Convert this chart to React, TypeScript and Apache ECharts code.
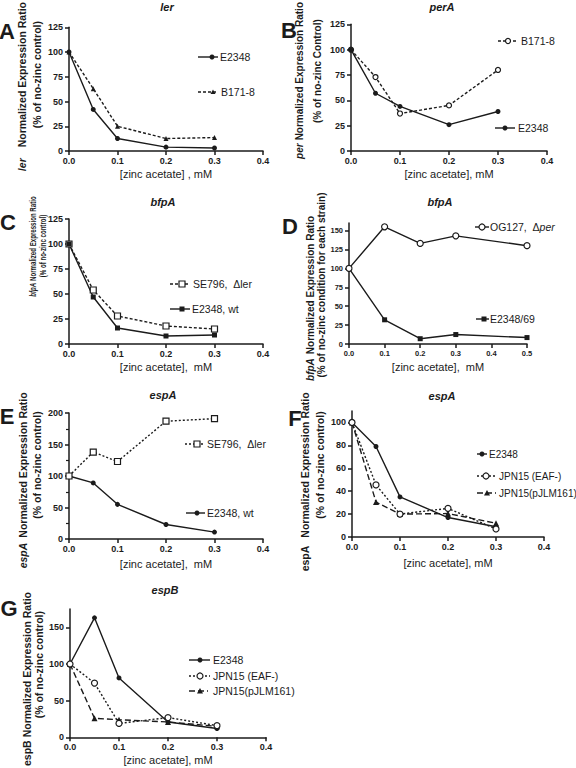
import React, { useEffect, useRef } from "react";
import * as echarts from "echarts";

// ---------- data ----------
const dose5 = [0, 0.05, 0.1, 0.2, 0.3];
const doseD = [0, 0.1, 0.2, 0.3, 0.5];

const lerE2348 = [100, 42, 12.6, 3.9, 3];
const lerB1718 = [100, 63, 25, 12.6, 13.6];

const perB1718 = [100, 73, 37, 45, 80];
const perE2348 = [100, 57, 44, 26, 39];

const bfpCSE796 = [100, 54, 28, 18, 15];
const bfpCE2348 = [100, 47, 16, 8, 9];

const bfpDOG127 = [100, 155, 133, 143, 130];
const bfpDE234869 = [100, 32, 7, 12.5, 8.5];

const espASE796 = [100, 138, 123, 187, 191];
const espAE2348wt = [100, 89, 55, 23, 11];

const espAE2348 = [100, 79, 35, 17, 9];
const espAJPN15 = [100, 45.5, 20, 25, 7];
const espAJPN15p = [100, 30.5, 20, 20.5, 12];

const espBE2348 = [100, 163, 81, 21, 12];
const espBJPN15 = [100, 74, 19, 27, 16];
const espBJPN15p = [100, 26, 24, 21, 15];

const ticks125 = [0, 25, 50, 75, 100, 125];
const ticksD = [0, 25, 50, 75, 100, 125, 150];
const ticksE = [0, 50, 100, 150, 200];
const ticksF = [0, 20, 40, 60, 80, 100];
const ticksG = [0, 50, 100, 150];

// ---------- styles ----------
const FONT = "'Liberation Sans', Arial, Helvetica, sans-serif";
const INK = "#1b1b1b";

const ST: Record<string, any> = {
  solidDot: { dash: "solid", sym: "circle", size: 5, filled: true },
  solidOpenCircle: { dash: "solid", sym: "circle", size: 6, filled: false },
  dashTri: { dash: [3, 2], sym: "triangle", size: 5, filled: true },
  dashOpenCircle: { dash: [3, 2], sym: "circle", size: 5, filled: false },
  dashOpenSquare: { dash: [3, 2], sym: "rect", size: 6, filled: false },
  dotOpenSquare: { dash: [2, 2], sym: "rect", size: 6, filled: false },
  solidSquare: { dash: "solid", sym: "rect", size: 5, filled: true },
  dotOpenCircle: { dash: [2, 2], sym: "circle", size: 6, filled: false },
  longDashTri: { dash: [6, 3], sym: "triangle", size: 6, filled: true },
};

const panels: any[] = [
  { grid: [69, 22, 194, 129], xMax: 0.4, yMax: 125, yTicks: ticks125, title: "ler", tx: 167, ty: 7, letter: "A", lx: 7, ly: 31, xName: "[zinc acetate] , mM", xGap: 17.5, tickFs: 9 },
  { grid: [351, 22, 196, 129], xMax: 0.4, yMax: 125, yTicks: ticks125, title: "perA", tx: 442, ty: 7, letter: "B", lx: 289, ly: 30, xName: "[zinc acetate], mM", xGap: 17.5, tickFs: 9 },
  { grid: [69, 219, 194, 125], xMax: 0.4, yMax: 125, yTicks: ticks125, title: "bfpA", tx: 163, ty: 202, letter: "C", lx: 8, ly: 222, xName: "[zinc acetate],  mM", xGap: 17.5, tickFs: 9 },
  { grid: [349, 223, 178, 121], xMax: 0.5, yMax: 160, yTicks: ticksD, title: "bfpA", tx: 440, ty: 202, letter: "D", lx: 290, ly: 226, xName: "[zinc acetate],  mM", xGap: 17.5, tickFs: 7.5 },
  { grid: [69, 413, 194, 126], xMax: 0.4, yMax: 200, yTicks: ticksE, minor: true, title: "espA", tx: 163, ty: 395, letter: "E", lx: 7, ly: 416, xName: "[zinc acetate],  mM", xGap: 19.5, tickFs: 9 },
  { grid: [352, 411, 192, 126], xMax: 0.4, yMax: 110, yTicks: ticksF, title: "espA", tx: 442, ty: 396, letter: "F", lx: 295, ly: 418, xName: "[zinc acetate], mM", xGap: 20.5, tickFs: 9 },
  { grid: [70, 609, 196, 129], xMax: 0.4, yMax: 175, yTicks: ticksG, title: "espB", tx: 165, ty: 590, letter: "G", lx: 9, ly: 608, xName: "[zinc acetate], mM", xGap: 17.5, tickFs: 9 },
];

// y-axis name layout per panel: c = screen centre of main text & 2nd line, gap = space between gene and main text
// condensed: drawn as compressed rotated text (panel C in the source figure is horizontally squeezed)
const yLabels: any[] = [
  { gene: "ler", it: true, fs: 10.5, lh: 15, nameGap: 19.5, c: 72, gap: 11, l2: "(% of no-zinc control)" },
  { gene: "per", it: true, fs: 10, lh: 18, nameGap: 20, c: 70, gap: 3, l2: "(% of no-zinc Control)" },
  { gene: "bfpA", it: true, fs: 9, condensed: { x1: 33, c1: 246.5, x2: 43.5, c2: 246, sc: 0.68 }, l2: "(% of no-zinc control)" },
  { gene: "bfpA", it: true, fs: 10, lh: 11, nameGap: 20.5, c: 285, gap: 4, l2: "(% of no-zinc condition for each strain)" },
  { gene: "espA", it: true, fs: 10.5, lh: 14, nameGap: 21, c: 465, gap: 5, l2: "(% of no-zinc control)" },
  { gene: "espA", it: false, fs: 10.5, lh: 15, nameGap: 19.5, c: 465, gap: 8, l2: "(% of no-zinc control)" },
  { gene: "espB", it: false, fs: 10.5, lh: 12, nameGap: 21, c: 665, gap: 3, l2: "(% of no-zinc control)" },
];

// legend layout
const legends: any[] = [
  { t: "E2348", st: "solidDot", x1: 198, x2: 218, sx: 212, y: 57, tx: 220 },
  { t: "B171-8", st: "dashTri", x1: 198, x2: 218, sx: 213, y: 92, tx: 221 },
  { t: "B171-8", st: "dashOpenCircle", x1: 498, x2: 518, sx: 508, y: 41, tx: 521 },
  { t: "E2348", st: "solidDot", x1: 495, x2: 515, sx: 505, y: 128, tx: 518 },
  { t: "SE796,  \u0394ler", st: "dashOpenSquare", x1: 170, x2: 188, sx: 182, y: 284, tx: 193 },
  { t: "E2348, wt", st: "solidSquare", x1: 170, x2: 190, sx: 182, y: 309, tx: 192 },
  { t: "OG127,  \u0394{i|per}", st: "solidOpenCircle", x1: 475, x2: 489, sx: 482, y: 227, tx: 490 },
  { t: "E2348/69", st: "solidSquare", x1: 476, x2: 489, sx: 484, y: 319, tx: 490 },
  { t: "SE796,  \u0394ler", st: "dotOpenSquare", x1: 185, x2: 204, sx: 197, y: 444, tx: 207 },
  { t: "E2348, wt", st: "solidDot", x1: 186, x2: 205, sx: 197, y: 513, tx: 207 },
  { t: "E2348", st: "solidDot", x1: 477, x2: 487, sx: 482, y: 454, tx: 489, fs: 10 },
  { t: "JPN15 (EAF-)", st: "dotOpenCircle", x1: 477, x2: 496, sx: 486, y: 476, tx: 499, fs: 10 },
  { t: "JPN15(pJLM161)", st: "longDashTri", x1: 477, x2: 496, sx: 487, y: 493, tx: 499, fs: 10 },
  { t: "E2348", st: "solidDot", x1: 189, x2: 210, sx: 200, y: 660, tx: 213 },
  { t: "JPN15 (EAF-)", st: "dotOpenCircle", x1: 189, x2: 210, sx: 200, y: 676, tx: 213 },
  { t: "JPN15(pJLM161)", st: "longDashTri", x1: 189, x2: 208, sx: 200, y: 691, tx: 213 },
];

let measureCtx: CanvasRenderingContext2D | null = null;
function textWidth(txt: string, font: string) {
  if (!measureCtx) measureCtx = document.createElement("canvas").getContext("2d");
  if (!measureCtx) return txt.length * 6;
  measureCtx.font = font;
  return measureCtx.measureText(txt).width;
}

function mkSeries(idx: number, xs: number[], ys: number[], stKey: string, name: string) {
  const st = ST[stKey];
  return {
    type: "line",
    name,
    xAxisIndex: idx,
    yAxisIndex: idx,
    data: xs.map((x, i) => [x, ys[i]]),
    symbol: st.sym,
    symbolSize: st.size,
    showSymbol: true,
    silent: true,
    lineStyle: { color: INK, width: 1.4, type: st.dash },
    itemStyle: { color: st.filled ? INK : "#fff", borderColor: INK, borderWidth: st.filled ? 0 : 1.2, opacity: 1 },
    emphasis: { disabled: true },
  };
}

function legendGraphics() {
  const out: any[] = [];
  legends.forEach((l) => {
    const st = ST[l.st];
    const fs = l.fs || 10.5;
    out.push({
      type: "line",
      shape: { x1: l.x1, y1: l.y, x2: l.x2, y2: l.y },
      style: { stroke: INK, lineWidth: 1.4, lineDash: st.dash === "solid" ? null : st.dash },
      silent: true,
    });
    const fill = st.filled ? INK : "#fff";
    const lw = st.filled ? 0 : 1.2;
    const h = st.size / 2;
    if (st.sym === "circle") {
      out.push({ type: "circle", shape: { cx: l.sx, cy: l.y, r: h }, style: { fill, stroke: INK, lineWidth: lw }, z: 110 });
    } else if (st.sym === "rect") {
      out.push({ type: "rect", shape: { x: l.sx - h, y: l.y - h, width: st.size, height: st.size }, style: { fill, stroke: INK, lineWidth: lw }, z: 110 });
    } else {
      out.push({
        type: "polygon",
        shape: { points: [[l.sx, l.y - h], [l.sx - h, l.y + h * 0.8], [l.sx + h, l.y + h * 0.8]] },
        style: { fill, stroke: INK, lineWidth: lw },
        z: 110,
      });
    }
    out.push({
      type: "text",
      x: l.tx,
      y: l.y,
      style: {
        text: l.t,
        fill: INK,
        fontFamily: FONT,
        fontSize: fs,
        verticalAlign: "middle",
        align: "left",
        rich: { i: { fontStyle: "italic", fontFamily: FONT, fontSize: fs, fill: INK } },
      },
    });
  });
  return out;
}

function labelGraphics() {
  const out: any[] = [];
  panels.forEach((p, i) => {
    out.push({
      type: "text",
      x: p.tx,
      y: p.ty,
      style: { text: p.title, fill: INK, fontFamily: FONT, fontSize: 11, fontWeight: "bold", fontStyle: "italic", align: "center", verticalAlign: "middle" },
    });
    out.push({
      type: "text",
      x: p.lx,
      y: p.ly,
      style: { text: p.letter, fill: INK, fontFamily: FONT, fontSize: 22, fontWeight: "bold", align: "center", verticalAlign: "middle" },
    });
    const yl = yLabels[i];
    if (yl.condensed) {
      const cd = yl.condensed;
      const base = { fill: INK, fontFamily: FONT, fontSize: yl.fs, fontWeight: "bold", align: "center", verticalAlign: "middle" };
      out.push({
        type: "text",
        x: cd.x1,
        y: cd.c1,
        rotation: Math.PI / 2,
        scaleX: cd.sc,
        style: { ...base, text: `{g|${yl.gene}} Normalized Expression Ratio`, rich: { g: { fontStyle: "italic", fontWeight: "bold", fontFamily: FONT, fontSize: yl.fs, fill: INK } } },
      });
      out.push({ type: "text", x: cd.x2, y: cd.c2, rotation: Math.PI / 2, scaleX: cd.sc, style: { ...base, text: yl.l2 } });
    }
  });
  return out;
}

function yName(i: number) {
  const yl = yLabels[i];
  if (yl.condensed) return { name: "" };
  const p = panels[i];
  const gc = p.grid[1] + p.grid[3] / 2;
  const geneFont = `${yl.it ? "italic " : ""}bold ${yl.fs}px 'Liberation Sans'`;
  const w1 = textWidth(yl.gene, geneFont);
  const lead = w1 + yl.gap;
  const P = 2 * (gc - yl.c) - lead;
  const padding = P >= 0 ? [0, 0, 0, P] : [0, -P, 0, 0];
  return {
    name: `{g|${yl.gene}}{gp|}Normalized Expression Ratio\n{sp|}${yl.l2}`,
    nameLocation: "middle",
    nameRotate: 90,
    nameGap: yl.nameGap,
    nameTextStyle: {
      fontFamily: FONT,
      fontSize: yl.fs,
      fontWeight: "bold",
      color: INK,
      lineHeight: yl.lh,
      padding,
      rich: {
        g: { fontFamily: FONT, fontSize: yl.fs, fontWeight: "bold", fontStyle: yl.it ? "italic" : "normal", color: INK, lineHeight: yl.lh },
        gp: { width: yl.gap, lineHeight: yl.lh },
        sp: { width: lead, lineHeight: yl.lh },
      },
    },
  };
}

export default function App() {
  const ref = useRef<HTMLDivElement>(null);
  useEffect(() => {
    if (!ref.current) return;
    const chart = echarts.init(ref.current, null, { renderer: "svg" });
    const axisLine = { show: true, onZero: false, lineStyle: { color: INK, width: 1.5 } };
    const grids = panels.map((p) => ({ left: p.grid[0], top: p.grid[1], width: p.grid[2], height: p.grid[3], containLabel: false }));
    const xAxes = panels.map((p, i) => ({
      gridIndex: i,
      type: "value",
      min: 0,
      max: p.xMax,
      interval: 0.1,
      axisLine,
      axisTick: { show: true, length: 4, inside: false, lineStyle: { color: INK, width: 1.5 } },
      axisLabel: { formatter: (v: number) => v.toFixed(1), fontSize: p.tickFs, fontWeight: "bold", fontFamily: FONT, color: INK, margin: 5 },
      splitLine: { show: false },
      name: p.xName,
      nameLocation: "middle",
      nameGap: p.xGap,
      nameTextStyle: { fontSize: 11, fontFamily: FONT, color: INK },
    }));
    const yAxes = panels.map((p, i) => ({
      gridIndex: i,
      type: "value",
      min: 0,
      max: p.yMax,
      axisLine,
      axisTick: { show: true, length: 4, lineStyle: { color: INK, width: 1.5 }, customValues: p.yTicks },
      minorTick: p.minor ? { show: true, splitNumber: 2, length: 3, lineStyle: { color: INK, width: 1.2 } } : { show: false },
      axisLabel: { fontSize: p.tickFs, fontWeight: "bold", fontFamily: FONT, color: INK, margin: 6, customValues: p.yTicks },
      splitLine: { show: false },
      interval: p.yTicks[1] - p.yTicks[0],
      ...yName(i),
    }));
    const series = [
      mkSeries(0, dose5, lerB1718, "dashTri", "A-B171-8"),
      mkSeries(0, dose5, lerE2348, "solidDot", "A-E2348"),
      mkSeries(1, dose5, perB1718, "dashOpenCircle", "B-B171-8"),
      mkSeries(1, dose5, perE2348, "solidDot", "B-E2348"),
      mkSeries(2, dose5, bfpCSE796, "dashOpenSquare", "C-SE796"),
      mkSeries(2, dose5, bfpCE2348, "solidSquare", "C-E2348"),
      mkSeries(3, doseD, bfpDE234869, "solidSquare", "D-E2348/69"),
      mkSeries(3, doseD, bfpDOG127, "solidOpenCircle", "D-OG127"),
      mkSeries(4, dose5, espAE2348wt, "solidDot", "E-E2348"),
      mkSeries(4, dose5, espASE796, "dotOpenSquare", "E-SE796"),
      mkSeries(5, dose5, espAE2348, "solidDot", "F-E2348"),
      mkSeries(5, dose5, espAJPN15p, "longDashTri", "F-JPN15p"),
      mkSeries(5, dose5, espAJPN15, "dotOpenCircle", "F-JPN15"),
      mkSeries(6, dose5, espBE2348, "solidDot", "G-E2348"),
      mkSeries(6, dose5, espBJPN15p, "longDashTri", "G-JPN15p"),
      mkSeries(6, dose5, espBJPN15, "dotOpenCircle", "G-JPN15"),
    ];
    chart.setOption({
      animation: false,
      backgroundColor: "#fff",
      grid: grids,
      xAxis: xAxes,
      yAxis: yAxes,
      series,
      graphic: { elements: [...labelGraphics(), ...legendGraphics()] },
    });
    return () => chart.dispose();
  }, []);
  return <div ref={ref} style={{ position: "fixed", left: 0, top: 0, width: 576, height: 768 }} />;
}
